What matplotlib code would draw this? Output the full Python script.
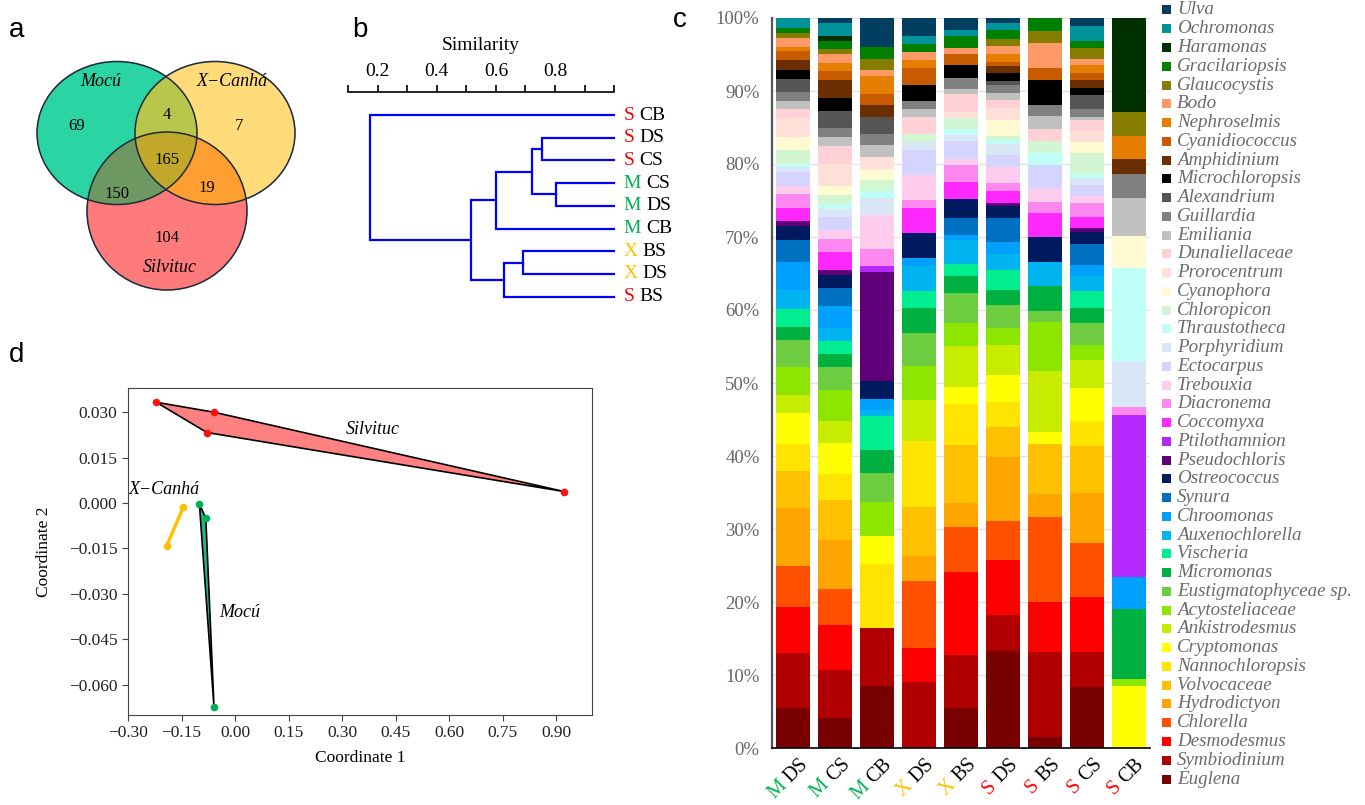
import numpy as np
import matplotlib
matplotlib.use("Agg")
import matplotlib.pyplot as plt
from matplotlib.patches import Ellipse, Polygon, Rectangle
from matplotlib.colors import to_rgba
from matplotlib.font_manager import FontProperties
from matplotlib.textpath import text_to_path
from matplotlib.ticker import FixedLocator, FuncFormatter, PercentFormatter

SERIF = ['Liberation Serif', 'DejaVu Serif']
plt.rcParams['font.family'] = SERIF

# ---------------- data ----------------
# a: Venn counts (region code = Mocú, X-Canhá, Silvituc membership)
venn_sets = ["Mocú", "X\u2212Canhá", "Silvituc"]
venn_codes = ["100", "010", "001", "110", "101", "011", "111"]
venn_counts = [69, 7, 104, 4, 150, 19, 165]

# b: dendrogram (leaf order top->bottom, merges as (child, child, similarity))
leaves = ["S CB", "S DS", "S CS", "M CS", "M DS", "M CB", "X BS", "X DS", "S BS"]
merges = [(1, 2, 0.757), (3, 4, 0.803), (9, 10, 0.721), (11, 5, 0.599),
          (6, 7, 0.693), (13, 8, 0.628), (12, 14, 0.516), (0, 15, 0.174)]

# c: relative abundance (%), genera listed bottom -> top of the stack
genera = ["Euglena", "Symbiodinium", "Desmodesmus", "Chlorella", "Hydrodictyon",
          "Volvocaceae", "Nannochloropsis", "Cryptomonas", "Ankistrodesmus",
          "Acytosteliaceae", "Eustigmatophyceae sp.", "Micromonas", "Vischeria",
          "Auxenochlorella", "Chroomonas", "Synura", "Ostreococcus", "Pseudochloris",
          "Ptilothamnion", "Coccomyxa", "Diacronema", "Trebouxia", "Ectocarpus",
          "Porphyridium", "Thraustotheca", "Chloropicon", "Cyanophora", "Prorocentrum",
          "Dunaliellaceae", "Emiliania", "Guillardia", "Alexandrium", "Microchloropsis",
          "Amphidinium", "Cyanidiococcus", "Nephroselmis", "Bodo", "Glaucocystis",
          "Gracilariopsis", "Haramonas", "Ochromonas", "Ulva"]
genus_colors = ["#780000", "#b00000", "#ff0000", "#ff5000", "#ffa500",
                "#ffc000", "#ffe400", "#ffff00", "#c8ec00",
                "#8ce600", "#6ecc40", "#00b040", "#00ee90",
                "#00b4f0", "#00a0ff", "#0070c0", "#001a60", "#600078",
                "#b428ff", "#ff28ff", "#ff88f0", "#ffccee", "#d4d4ff",
                "#d8e6f5", "#c0fff8", "#d2f5d2", "#fffad2", "#ffe0d8",
                "#ffd0d5", "#c0c0c0", "#808080", "#555555", "#000000",
                "#6b2e00", "#c85a00", "#e67e00", "#ff9a66", "#857c00",
                "#007f00", "#002f00", "#00949a", "#003f5f"]
samples = ["M DS", "M CS", "M CB", "X DS", "X BS", "S DS", "S BS", "S CS", "S CB"]
m_ds = [5.5, 7.5, 6.25, 5.6, 8.0, 5.0, 3.65, 4.3, 2.5, 3.7, 3.7, 1.8, 2.5, 2.6, 3.75,
        3.1, 1.9, 0.6, 0, 1.8, 1.9, 1.1, 1.9, 0.7, 0.5, 1.8, 1.8, 2.6, 1.2, 1.2, 1.2,
        1.8, 1.2, 1.3, 1.3, 0.6, 1.2, 0.7, 0.6, 0, 1.4, 0]
m_cs = [4.1, 6.6, 6.2, 4.9, 6.6, 5.5, 3.6, 4.2, 3.0, 4.3, 3.1, 1.8, 1.8, 1.8, 3.0,
        2.4, 1.8, 0.7, 0, 2.5, 1.8, 1.2, 1.7, 1.2, 0.6, 1.3, 1.2, 3.0, 2.5, 1.2, 1.2,
        2.4, 1.8, 2.4, 1.2, 1.2, 1.2, 0.6, 1.2, 0.6, 1.8, 0.7]
m_cb = [8.5, 7.9, 0, 0, 0, 0, 8.8, 3.8, 0, 4.7, 4.0, 3.1, 4.7, 0.8, 1.6,
        0, 2.4, 14.9, 0.8, 0, 2.4, 4.7, 0, 2.3, 0.9, 1.6, 1.5, 1.6, 0, 1.6, 1.6,
        2.3, 0, 1.6, 1.6, 2.4, 0.8, 1.55, 1.6, 0, 0, 4.0]
x_ds = [0, 9.0, 4.6, 9.2, 3.5, 6.6, 9.0, 0, 5.7, 4.6, 4.5, 3.4, 2.3, 3.5, 1.1,
        0, 3.4, 0, 0, 3.4, 1.1, 3.4, 3.4, 1.1, 0, 1.05, 0, 0, 2.4, 1.1, 1.1,
        0, 2.2, 0, 2.3, 1.1, 1.1, 0, 1.1, 0, 1.1, 2.4]
x_bs = [5.5, 7.2, 11.4, 6.2, 3.3, 8.0, 5.6, 2.4, 5.6, 3.2, 4.0, 2.4, 1.6, 3.3, 0.7,
        2.4, 2.5, 0, 0, 2.4, 2.3, 0.9, 2.4, 0.8, 0.8, 1.6, 0, 0.8, 2.4, 0.8, 1.5,
        0, 1.7, 0, 1.6, 0, 0.8, 0, 1.6, 0, 0.8, 1.7]
s_ds = [13.3, 4.9, 7.5, 5.3, 8.7, 4.2, 3.3, 3.7, 4.2, 2.2, 3.2, 2.1, 2.7, 2.2, 1.6,
        3.3, 1.6, 0.5, 0, 1.6, 1.05, 2.2, 1.6, 1.6, 0.5, 0.5, 2.2, 1.6, 1.1, 1.0, 1.05,
        0.6, 1.05, 1.05, 0.5, 1.05, 1.1, 1.05, 1.1, 0, 1.0, 0.7]
s_bs = [1.5, 11.7, 6.8, 11.6, 3.2, 6.8, 0, 1.6, 8.4, 6.7, 1.6, 3.4, 0, 3.2, 0,
        0, 3.4, 0, 0, 3.3, 1.6, 1.7, 3.3, 0, 1.7, 1.6, 0, 0, 1.7, 1.7, 1.6,
        0, 3.4, 0, 1.6, 0, 3.4, 1.65, 1.8, 0, 0, 0]
s_cs = [8.3, 4.9, 7.5, 7.4, 6.8, 6.5, 3.4, 4.5, 3.9, 2.0, 3.0, 2.05, 2.4, 2.05, 1.5,
        2.9, 1.6, 0.5, 0, 1.5, 2.0, 0.9, 1.5, 1.0, 0.5, 2.9, 1.5, 1.5, 1.5, 0.5, 1.0,
        1.9, 1.05, 1.0, 1.0, 1.05, 0.9, 1.5, 1.0, 0, 2.0, 1.1]
s_cb = [0, 0, 0, 0, 0, 0, 0, 8.45, 0, 1.05, 0, 9.6, 0, 0, 4.3,
        0, 0, 0, 22.2, 0, 1.1, 0, 0, 6.3, 12.8, 0, 4.3, 0, 0, 5.3, 3.2,
        0, 0, 2.1, 0, 3.2, 0, 3.2, 0, 12.9, 0, 0]
abundance = [m_ds, m_cs, m_cb, x_ds, x_bs, s_ds, s_bs, s_cs, s_cb]

# d: PCoA coordinates
silvituc_c1 = [-0.221, -0.059, 0.922, -0.079]
silvituc_c2 = [0.0333, 0.0300, 0.0038, 0.0233]
mocu_c1 = [-0.100, -0.082, -0.059]
mocu_c2 = [-0.0003, -0.0050, -0.0675]
xcanha_c1 = [-0.145, -0.192]
xcanha_c2 = [-0.0014, -0.0142]

site_colors = {"M": "#00b050", "X": "#ffc000", "S": "#ff0000"}

# ---------------- helpers ----------------
W, H = 1365, 805
fig = plt.figure(figsize=(W / 100, H / 100), dpi=100)


def fig_box(x0, y0, x1, y1):
    return [x0 / W, 1 - y1 / H, (x1 - x0) / W, (y1 - y0) / H]


def text_w(s, size):
    fp = FontProperties(family=SERIF, size=size)
    w, _, _ = text_to_path.get_text_width_height_descent(s, fp, ismath=False)
    return w


# pixel overlay for letters + legend
ax_px = fig.add_axes([0, 0, 1, 1], zorder=5)
ax_px.set_xlim(0, W)
ax_px.set_ylim(H, 0)
ax_px.axis('off')
for letter, (lx, ly) in zip("abcd", [(17, 30), (360, 30), (680, 20), (17, 355)]):
    ax_px.text(lx, ly, letter, fontsize=20, family='Liberation Sans',
               ha='center', va='center')

# ---------------- a: Venn ----------------
ax_a = fig.add_axes(fig_box(0, 0, 330, 320))
ellipses = [((117, 133), 160, 143), ((215, 133), 160, 143), ((167, 211), 160, 158)]
region_colors = {"100": "#2ad5a3", "010": "#ffdb7a", "001": "#ff7b7b",
                 "110": "#b8c84c", "101": "#6f9862", "011": "#ff9e32",
                 "111": "#c2a82a"}
region_pos = {"100": (77, 126), "010": (239, 126), "001": (167, 238),
              "110": (167, 115), "101": (117, 194), "011": (207, 188),
              "111": (167, 160)}
gx, gy = np.meshgrid(np.arange(0, 330, 0.5) + 0.25, np.arange(0, 320, 0.5) + 0.25)
member = [((gx - c[0]) / (w / 2)) ** 2 + ((gy - c[1]) / (h / 2)) ** 2 <= 1
          for c, w, h in ellipses]
img = np.zeros(gx.shape + (4,))
for code, col in region_colors.items():
    mask = np.ones(gx.shape, bool)
    for k in range(3):
        mask &= member[k] == (code[k] == "1")
    img[mask] = to_rgba(col)
ax_a.imshow(img, extent=(0, 330, 320, 0), aspect='auto', interpolation='bilinear')
for c, w, h in ellipses:
    ax_a.add_patch(Ellipse(c, w, h, fill=False, ec='#1c2a3a', lw=1.1))
for code, n in zip(venn_codes, venn_counts):
    px, py = region_pos[code]
    ax_a.text(px, py, str(n), fontsize=12, ha='center', va='center')
for name, (px, py) in zip(venn_sets, [(101, 81), (232, 82), (170, 268)]):
    ax_a.text(px, py, name, fontsize=13, style='italic', ha='center', va='center')
ax_a.set_xlim(0, 330)
ax_a.set_ylim(320, 0)
ax_a.axis('off')

# ---------------- b: dendrogram ----------------
ax_b = fig.add_axes(fig_box(348.15, 92, 614.1, 310))
pos = {i: (1.0, float(i)) for i in range(len(leaves))}
for k, (a, b, h) in enumerate(merges):
    xa, ya = pos[a]
    xb, yb = pos[b]
    ax_b.plot([xa, h, h, xb], [ya, ya, yb, yb], color='#0000ff', lw=1.6,
              solid_joinstyle='miter', clip_on=False)
    pos[len(leaves) + k] = (h, (ya + yb) / 2)
ax_b.set_xlim(0.1, 1.0)
ax_b.set_ylim(8.587, -1.013)
for s in ['left', 'right', 'bottom']:
    ax_b.spines[s].set_visible(False)
ax_b.spines['top'].set_linewidth(1.2)
ax_b.xaxis.tick_top()
ax_b.xaxis.set_label_position('top')
ax_b.xaxis.set_major_locator(FixedLocator(np.round(np.arange(0.1, 1.01, 0.1), 1)))
ax_b.xaxis.set_major_formatter(FuncFormatter(
    lambda v, p: f"{v:.1f}" if round(v * 10) in (2, 4, 6, 8) else ""))
ax_b.tick_params(axis='x', direction='out', length=5, width=1.2, labelsize=14, pad=4)
ax_b.set_yticks([])
ax_b.set_xlabel("Similarity", fontsize=14, labelpad=9)
leaf_fs = 14
for i, lab in enumerate(leaves):
    pre, suf = lab.split(" ")
    ax_b.annotate(pre, xy=(1.0, i), xytext=(7, 0), textcoords='offset points',
                  color=site_colors[pre], fontsize=leaf_fs, ha='left', va='center',
                  annotation_clip=False)
    dx = 7 + text_w(pre, leaf_fs) + 0.25 * leaf_fs
    ax_b.annotate(suf, xy=(1.0, i), xytext=(dx, 0), textcoords='offset points',
                  color='black', fontsize=leaf_fs, ha='left', va='center',
                  annotation_clip=False)

# ---------------- c: stacked bars ----------------
ax_c = fig.add_axes(fig_box(772, 18, 1150, 748))
xpos = np.arange(len(samples))
table = np.array(abundance, dtype=float)
table = table / table.sum(axis=1, keepdims=True) * 100
bottom = np.zeros(len(samples))
for gi, g in enumerate(genera):
    vals = table[:, gi]
    ax_c.bar(xpos, vals, 0.83, bottom=bottom, color=genus_colors[gi], linewidth=0)
    bottom += vals
ax_c.set_xlim(-0.5, len(samples) - 0.5)
ax_c.set_ylim(0, 100)
ax_c.set_yticks(np.arange(0, 101, 10))
ax_c.yaxis.set_major_formatter(PercentFormatter(xmax=100, decimals=0))
ax_c.yaxis.grid(True, color='#e3e3e3', lw=1)
ax_c.set_axisbelow(True)
ax_c.tick_params(axis='y', length=0, labelsize=13.5, labelcolor='#666666', pad=9)
ax_c.set_xticks([])
for s in ['top', 'right']:
    ax_c.spines[s].set_visible(False)
ax_c.spines['left'].set_color('#555555')
ax_c.spines['left'].set_linewidth(1.6)
ax_c.spines['bottom'].set_linewidth(1.2)
xl_fs = 14.5
c45 = np.cos(np.radians(45))
for i, lab in enumerate(samples):
    pre, suf = lab.split(" ")
    ox, oy = 4, -5
    ax_c.annotate(suf, xy=(i, 0), xycoords=('data', 'axes fraction'), xytext=(ox, oy),
                  textcoords='offset points', rotation=45, rotation_mode='anchor',
                  ha='right', va='top', fontsize=xl_fs, color='black',
                  annotation_clip=False)
    shift = text_w(suf, xl_fs) + 0.25 * xl_fs
    ax_c.annotate(pre, xy=(i, 0), xycoords=('data', 'axes fraction'),
                  xytext=(ox - shift * c45, oy - shift * c45),
                  textcoords='offset points', rotation=45, rotation_mode='anchor',
                  ha='right', va='top', fontsize=xl_fs, color=site_colors[pre],
                  annotation_clip=False)

# legend (top = last genus)
row0, row_step = 10, (779 - 10) / (len(genera) - 1)
for r, gi in enumerate(range(len(genera) - 1, -1, -1)):
    yy = row0 + r * row_step
    ax_px.add_patch(Rectangle((1162, yy - 4.5), 9, 9, color=genus_colors[gi], lw=0))
    ax_px.text(1177, yy, genera[gi], fontsize=13.7, style='italic', color='#6b6b6b',
               ha='left', va='center')

# ---------------- d: PCoA ----------------
ax_d = fig.add_axes(fig_box(128, 388, 592, 715))
ax_d.add_patch(Polygon(np.column_stack([silvituc_c1, silvituc_c2]), closed=True,
                       fc='#ff8080', ec='black', lw=1.2, zorder=2))
ax_d.add_patch(Polygon(np.column_stack([mocu_c1, mocu_c2]), closed=True,
                       fc='#27b389', ec='black', lw=1.2, zorder=2))
ax_d.plot(xcanha_c1, xcanha_c2, color='#ffc000', lw=2.5, zorder=2)
ax_d.scatter(silvituc_c1, silvituc_c2, s=30, color='#ff1010', zorder=3, lw=0)
ax_d.scatter(mocu_c1, mocu_c2, s=30, color='#00b050', zorder=3, lw=0)
ax_d.scatter(xcanha_c1, xcanha_c2, s=30, color='#ffc000', zorder=3, lw=0)
ax_d.text(0.386, 0.0244, "Silvituc", style='italic', fontsize=13, ha='center', va='center')
ax_d.text(-0.20, 0.0044, "X\u2212Canhá", style='italic', fontsize=13, ha='center', va='center')
ax_d.text(0.014, -0.0363, "Mocú", style='italic', fontsize=13, ha='center', va='center')
ax_d.set_xlim(-0.30, 1.00)
ax_d.set_ylim(-0.070, 0.038)
ax_d.set_xticks(np.arange(-0.30, 0.91, 0.15))
ax_d.set_yticks(np.arange(-0.060, 0.031, 0.015))


def fmt(dec):
    def f(v, p):
        v = 0.0 if abs(v) < 1e-9 else v
        return f"{v:.{dec}f}".replace("-", "\u2212")
    return FuncFormatter(f)


ax_d.xaxis.set_major_formatter(fmt(2))
ax_d.yaxis.set_major_formatter(fmt(3))
ax_d.tick_params(length=4, labelsize=12.5, color='#444444', labelcolor='#222222')
for s in ax_d.spines.values():
    s.set_color('#444444')
ax_d.set_xlabel("Coordinate 1", fontsize=12.5, labelpad=6)
ax_d.set_ylabel("Coordinate 2", fontsize=12.5, labelpad=12)

fig.savefig("out.png", dpi=100)
